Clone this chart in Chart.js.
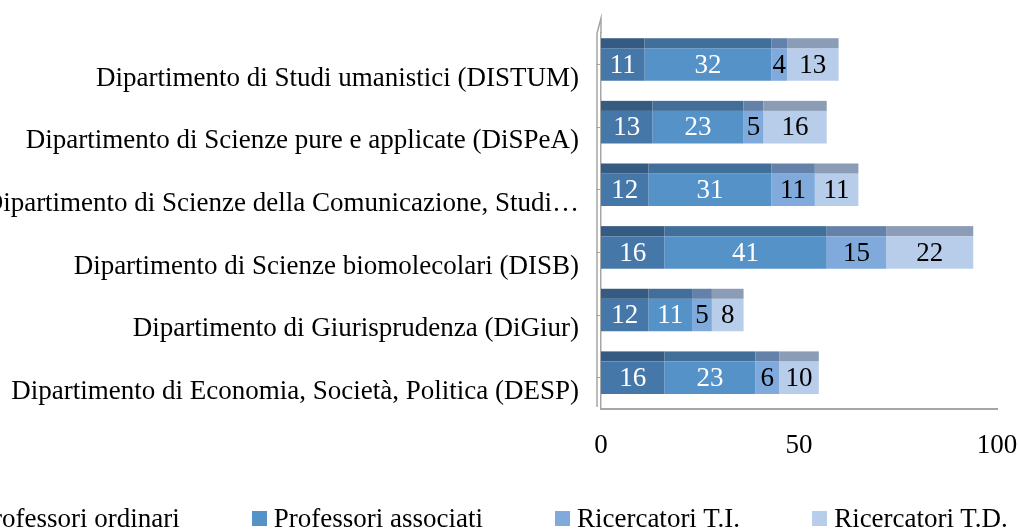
<!DOCTYPE html>
<html>
<head>
<meta charset="utf-8">
<script src="https://cdn.jsdelivr.net/npm/chart.js@4.4.1/dist/chart.umd.min.js"></script>
<style>
  html, body { margin: 0; padding: 0; background: #fff; overflow: hidden; }
  #wrap   { position: relative; width: 1018px; height: 529px; overflow: hidden; }
  #legend { position: absolute; left: -44px; top: 503px; display: flex; white-space: nowrap;
            font: 27px "Liberation Serif", serif; color: #000; line-height: 30px; }
  .lg-item { display: flex; align-items: center; margin-right: 72px; }
  .lg-box  { width: 15px; height: 15px; margin-right: 7px; }
</style>
</head>
<body>
<div id="wrap">
  <canvas id="chart" width="1018" height="529"></canvas>
  <div id="legend"></div>
</div>
<script>
/* ── Data ─────────────────────────────────────────────── */
const categories = [
  'Dipartimento di Studi umanistici (DISTUM)',
  'Dipartimento di Scienze pure e applicate (DiSPeA)',
  'Dipartimento di Scienze della Comunicazione, Studi…',
  'Dipartimento di Scienze biomolecolari (DISB)',
  'Dipartimento di Giurisprudenza (DiGiur)',
  'Dipartimento di Economia, Società, Politica (DESP)'
];
const seriesNames = ['Professori ordinari', 'Professori associati', 'Ricercatori T.I.', 'Ricercatori T.D.'];
const ordinari    = [11, 13, 12, 16, 12, 16];
const associati   = [32, 23, 31, 41, 11, 23];
const ricercTI    = [4, 5, 11, 15, 5, 6];
const ricercTD    = [13, 16, 11, 22, 8, 10];
const xTicks      = [0, 50, 100];

/* ── Styles ───────────────────────────────────────────── */
const FONT        = '"Liberation Serif", serif';
const FONT_SIZE   = 27;
const frontColors = ['#4677A9', '#5592C8', '#80AADB', '#B8CDEA'];
const topColors   = ['#355B82', '#426F9A', '#6481A9', '#8B9CB6'];
const valueColors = ['#FFFFFF', '#FFFFFF', '#000000', '#000000'];
const axisGrey    = '#A6A6A6';

const seriesValues = [ordinari, associati, ricercTI, ricercTD];

/* ── Legend (HTML, so the first entry can run off the page) ── */
const legendEl = document.getElementById('legend');
seriesNames.forEach((name, i) => {
  const item = document.createElement('div');
  item.className = 'lg-item';
  item.innerHTML = `<span class="lg-box" style="background:${frontColors[i]}"></span><span>${name}</span>`;
  legendEl.appendChild(item);
});

/* ── 3D top face + value labels ───────────────────────── */
const barDecor = {
  id: 'barDecor',
  beforeDraw(chart) {
    const { ctx, chartArea: a } = chart;
    // thin back wall rising a little above the plot
    ctx.save();
    ctx.strokeStyle = axisGrey;
    ctx.lineWidth = 1.5;
    ctx.beginPath();
    ctx.moveTo(a.left - 4, a.bottom - 2);
    ctx.lineTo(a.left - 4, a.top);
    ctx.lineTo(a.left, a.top - 15);
    ctx.lineTo(a.left, a.top);
    ctx.stroke();
    ctx.restore();
  },
  afterDatasetsDraw(chart) {
    const { ctx } = chart;
    const depth = 10;
    ctx.save();
    chart.data.datasets.forEach((ds, di) => {
      chart.getDatasetMeta(di).data.forEach(bar => {
        const { x, y, base, height } = bar.getProps(['x', 'y', 'base', 'height'], true);
        const top = y - height / 2;
        ctx.fillStyle = topColors[di];
        ctx.fillRect(base, top - depth, x - base, depth);
      });
    });
    ctx.font = `${FONT_SIZE}px ${FONT}`;
    ctx.textAlign = 'center';
    ctx.textBaseline = 'middle';
    chart.data.datasets.forEach((ds, di) => {
      ctx.fillStyle = valueColors[di];
      chart.getDatasetMeta(di).data.forEach((bar, i) => {
        const { x, y, base } = bar.getProps(['x', 'y', 'base'], true);
        ctx.fillText(String(ds.data[i]), (base + x) / 2, y + 1);
      });
    });
    ctx.restore();
  }
};

new Chart(document.getElementById('chart'), {
  type: 'bar',
  data: {
    labels: categories,
    datasets: seriesNames.map((name, i) => ({
      label: name,
      data: seriesValues[i],
      backgroundColor: frontColors[i],
      borderWidth: 0,
      barPercentage: 0.52,
      categoryPercentage: 1
    }))
  },
  options: {
    indexAxis: 'y',
    responsive: false,
    animation: false,
    devicePixelRatio: 1,
    layout: { padding: { top: 28, right: 0, bottom: 60, left: 0 } },
    plugins: {
      legend: { display: false },
      tooltip: { enabled: false }
    },
    scales: {
      x: {
        stacked: true,
        min: 0,
        max: 100,
        afterBuildTicks: s => { s.ticks = xTicks.map(v => ({ value: v })); },
        grid: { display: false, drawTicks: false },
        border: { display: true, color: axisGrey, width: 2 },
        ticks: { padding: 21, color: '#000', font: { family: FONT, size: FONT_SIZE } },
        afterFit: s => { s.height = 60; s.paddingLeft = 0; s.paddingRight = 21; }
      },
      y: {
        stacked: true,
        grid: { drawOnChartArea: false, offset: false, tickLength: 5, color: axisGrey },
        border: { display: true, color: axisGrey, width: 1.5 },
        ticks: { padding: 17, labelOffset: 14, color: '#000', autoSkip: false,
                 font: { family: FONT, size: FONT_SIZE } },
        afterFit: s => { s.width = 601; }
      }
    }
  },
  plugins: [barDecor]
});
</script>
</body>
</html>
